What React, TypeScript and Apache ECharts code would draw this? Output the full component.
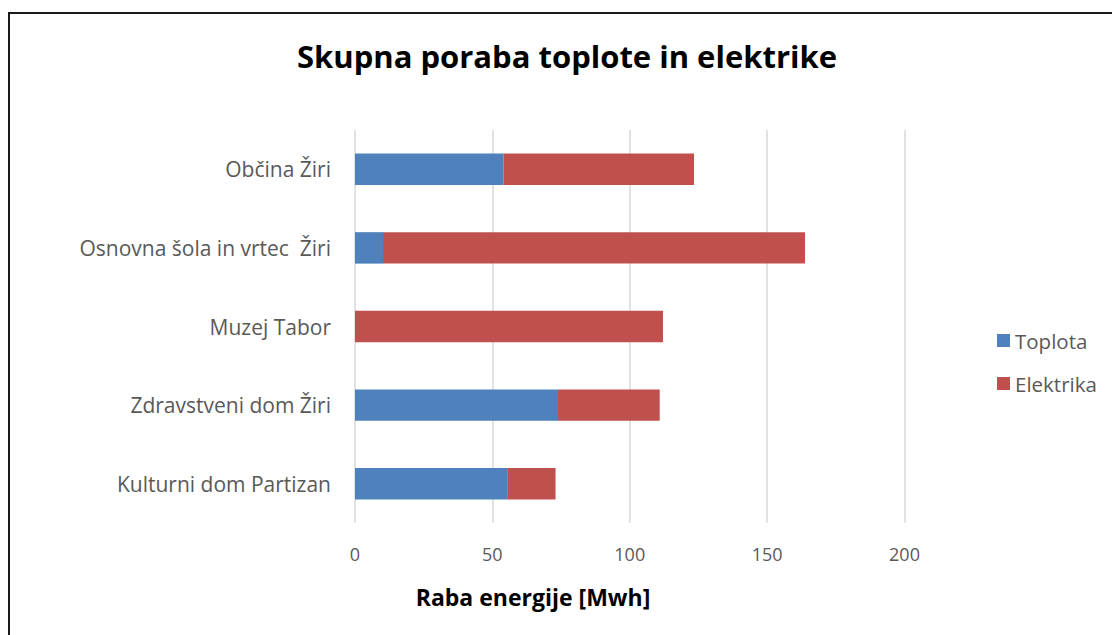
import React, { useEffect, useRef } from "react";
import * as echarts from "echarts";

const categories = [
  "Občina Žiri",
  "Osnovna šola in vrtec  Žiri",
  "Muzej Tabor",
  "Zdravstveni dom Žiri",
  "Kulturni dom Partizan",
];
const toplota = [54.1, 10.2, 0, 73.9, 55.4];
const elektrika = [69.3, 153.6, 112.1, 37.0, 17.6];
const seriesNames = ["Toplota", "Elektrika"];
const titleText = "Skupna poraba toplote in elektrike";
const axisTitle = "Raba energije [Mwh]";

const FONT = "'Open Sans', Lato, sans-serif";

export default function App() {
  const ref = useRef<HTMLDivElement>(null);
  useEffect(() => {
    if (!ref.current) return;
    const chart = echarts.init(ref.current, null, { renderer: "svg" });
    chart.setOption({
      animation: false,
      backgroundColor: "#ffffff",
      textStyle: { fontFamily: FONT },
      title: {
        text: titleText,
        left: 562,
        top: 35,
        textAlign: "center",
        textStyle: { fontFamily: FONT, fontSize: 31, fontWeight: "bold", color: "#000000" },
      },
      legend: {
        orient: "vertical",
        left: 992,
        top: 325,
        itemWidth: 13,
        itemHeight: 13,
        itemGap: 22,
        icon: "rect",
        data: seriesNames,
        textStyle: { fontFamily: FONT, fontSize: 20.5, color: "#595959", padding: [0, 0, 0, 0] },
      },
      grid: { left: 355, right: 207.5, top: 130, bottom: 112, containLabel: false },
      xAxis: {
        type: "value",
        min: 0,
        max: 200,
        interval: 50,
        axisLine: { show: false },
        axisTick: { show: false },
        axisLabel: { fontFamily: FONT, fontSize: 18, color: "#595959", margin: 22 },
        splitLine: { show: true, lineStyle: { color: "#d9d9d9", width: 1.5 } },
      },
      yAxis: {
        type: "category",
        inverse: true,
        data: categories,
        axisLine: { show: false },
        axisTick: { show: false },
        axisLabel: { fontFamily: FONT, fontSize: 21, color: "#595959", margin: 24 },
      },
      series: [
        {
          name: seriesNames[0],
          type: "bar",
          stack: "total",
          data: toplota,
          barCategoryGap: "60%",
          itemStyle: { color: "#4f81bd" },
        },
        {
          name: seriesNames[1],
          type: "bar",
          stack: "total",
          data: elektrika,
          barCategoryGap: "60%",
          itemStyle: { color: "#c0504d" },
        },
      ],
      graphic: [
        {
          type: "rect",
          shape: { x: 9, y: 13, width: 1200, height: 700 },
          style: { fill: "none", stroke: "#1a1a1a", lineWidth: 2 },
          silent: true,
        },
        {
          type: "text",
          x: 533,
          y: 597,
          style: {
            text: axisTitle,
            fontFamily: FONT,
            fontSize: 23,
            fontWeight: "bold",
            fill: "#000000",
            align: "center",
            verticalAlign: "middle",
          },
        },
      ],
    });
    return () => chart.dispose();
  }, []);
  return (
    <div
      ref={ref}
      style={{ position: "absolute", left: 0, top: 0, width: 1112, height: 635 }}
    />
  );
}
